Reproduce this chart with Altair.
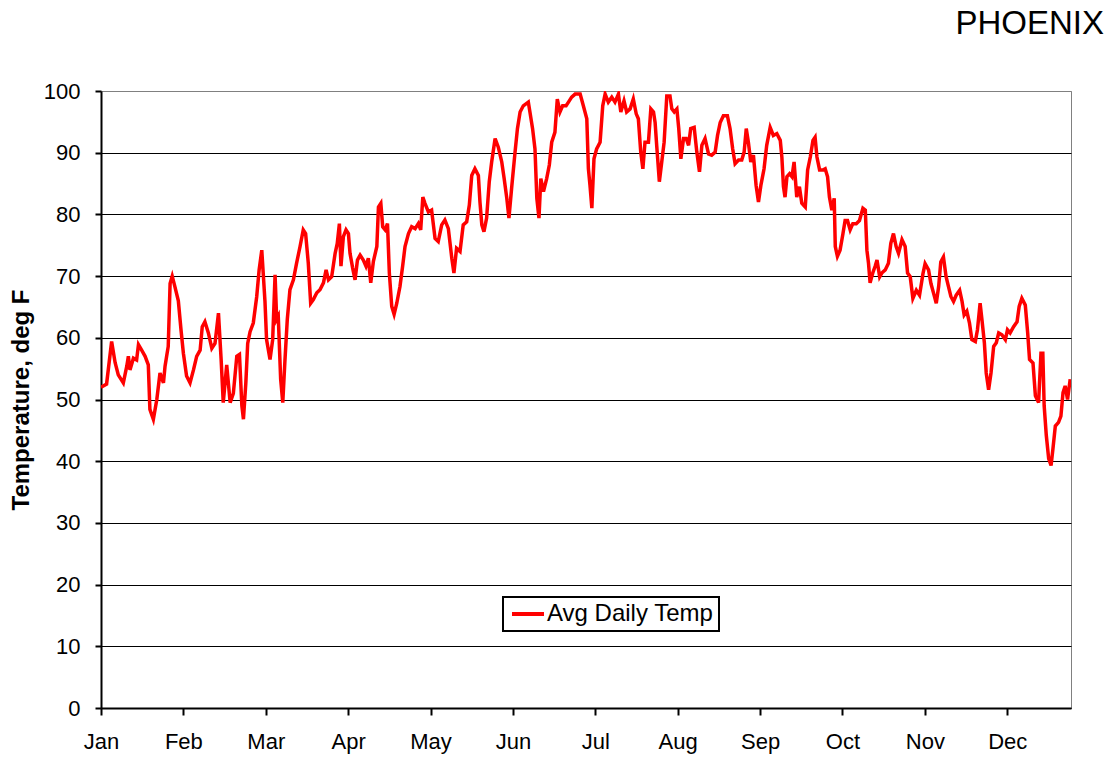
import altair as alt
import pandas as pd

# Day of year (fractional) and average daily temperature (deg F)
DAYS = [
    0, 2.1, 4.0, 5.3, 6.5, 8.4, 9.7, 10.3, 10.9, 12.2, 13.4, 14.1, 15.3, 16.6, 17.8, 18.4,
    19.7, 21.0, 22.2, 23.5, 24.1, 24.7, 25.3, 26.0, 26.8, 27.8, 29.1, 30.1, 31.0, 32.2,
    33.5, 34.8, 36.0, 37.3, 38.1, 39.1, 40.4, 41.7, 42.9, 44.2, 45.2, 46.0, 47.3, 48.6,
    49.8, 51.1, 52.1, 53.0, 53.6, 54.5, 55.2, 56.1, 57.3, 58.6, 59.5,
    60.5, 61.7, 62.3, 63.6, 64.6, 65.5, 66.1, 66.7, 67.6, 68.4, 69.2, 70.1, 71.1, 72.4,
    73.6, 74.9, 76.1, 77.0, 78.0, 78.9, 79.9, 81.2, 82.4, 83.7, 84.7, 85.6, 86.8, 88.1,
    88.9, 89.7, 90.3, 91.2, 92.2, 93.1, 93.7, 94.7, 95.6, 96.5, 97.5, 98.7, 99.7, 100.6,
    101.5, 102.5, 103.8, 104.4, 105.3, 106.0, 106.9, 107.8, 108.5, 109.4, 110.3, 111.3,
    112.5, 113.5, 114.4, 115.7, 116.9, 118.2, 119.4, 120.3, 121.1, 121.9, 123.2,
    124.4, 125.7, 126.9, 128.2, 129.4, 130.7, 132.0, 132.8, 133.8, 135.1, 136.3, 137.6,
    138.6, 139.5, 140.7, 142.0, 142.6, 143.3, 144.1, 145.1, 146.1, 147.0, 148.3, 149.5,
    150.8, 151.7, 152.7, 153.5, 154.5, 155.8, 156.7, 157.7, 158.9, 160.8, 161.4, 162.4,
    163.3, 164.0, 164.8, 165.5, 166.5, 167.7, 168.7, 169.6, 170.8, 171.7, 172.7, 173.7,
    175.0, 175.9, 177.1, 178.4, 180.3, 181.5, 182.8, 183.4, 184.0, 184.7, 185.5, 186.5,
    187.8, 188.8, 189.7, 190.9, 192.2, 193.4, 194.7, 195.6, 196.8, 197.8, 199.1, 200.3,
    201.4, 202.2, 203.1, 203.9, 204.7, 206.0, 206.9, 207.9, 208.5, 209.1, 210.1, 211.0,
    211.9, 212.9, 214.1, 214.8, 215.7, 216.7, 217.4, 218.2, 219.2, 220.2, 221.1, 221.9,
    223.2, 224.2, 225.2, 226.1, 227.3, 228.6, 229.8, 231.1, 232.0, 233.0, 234.2, 235.7,
    236.7, 237.7, 238.6, 239.9, 241.1, 242.0, 242.8, 243.6, 244.5, 245.5, 246.5, 247.4,
    248.3, 249.5, 250.5,
    251.8, 253.0, 254.3, 255.6, 256.2, 256.8, 257.4, 258.1, 259.1, 260.0, 260.8, 261.8,
    262.8, 263.7, 265.0, 265.9, 266.9, 267.9, 268.7, 269.4, 270.4, 271.6, 272.5, 273.4,
    274.1, 275.0, 275.9, 276.3, 277.1, 278.1, 279.2, 280.0, 280.9, 281.9, 282.9, 284.2,
    285.4, 286.7, 287.6, 288.2, 288.8, 289.4, 290.4, 291.3, 292.0, 293.0, 293.8, 295.1,
    296.3, 297.2, 298.2, 299.2, 300.1, 301.4, 302.6, 303.5,
    304.5, 305.5, 306.8, 308.0, 309.3, 310.1, 311.4, 312.3, 313.3, 314.3, 315.2, 316.0,
    317.0, 318.0, 318.9, 319.8, 320.8, 321.8, 323.1, 324.0, 324.8, 325.8, 326.8, 327.7,
    329.0, 329.8, 330.8, 331.5, 332.4, 333.1, 334.0, 334.9, 335.9, 336.9, 337.8, 339.0,
    340.3, 341.1, 342.1, 343.4, 344.7, 345.5, 346.5, 347.8, 348.7, 349.4, 350.7, 351.6,
    352.8, 353.7, 354.4, 354.9, 355.7, 356.6, 357.5, 358.2, 359.1, 360.3, 361.2, 362.0,
    362.8, 363.7, 364.7,
]
TEMPS = [
    52, 52.5, 59.4, 56, 54, 52.7, 55.4, 57, 54.8, 56.7, 56.4, 58.9, 58, 57, 55.6, 48.4,
    46.8, 50, 54.3, 52.7, 55.4, 57, 58.6, 68.8, 70, 68.3, 66, 61.3, 57.5, 53.8,
    52.7, 54.8, 57, 58, 61.8, 62.6, 60.8, 58.3, 59.1, 64, 56.5, 49.5, 55.6, 49.5,
    51, 57, 57.3, 49, 46.8, 52.7, 59.1, 61, 62.4, 66.7, 71,
    74.2, 65.9, 59.7, 56.5, 59.7, 70.2, 63, 63.5, 53.3, 49.5, 56.2, 63, 67.8, 69.4,
    72.1, 74.8, 77.5, 76.9, 72.1, 65.6, 66.2, 67.3, 67.8, 68.9, 71, 69.4, 69.9, 73.7,
    75.3, 78.5, 71.6, 76.4, 77.5, 76.9, 73.7, 71.3, 69.4, 72.6, 73.4, 72.6, 71.6, 72.9,
    68.9, 72.4, 74.8, 81.2, 81.8, 78, 77.5, 78.5, 70.5, 65.1, 63.8, 65.6,
    68.3, 71.6, 74.8, 76.9, 78, 77.7, 78.5, 77.5, 82.8, 81.8, 80.4,
    80.7, 76.1, 75.6, 78.3, 79.1, 77.7, 72.9, 70.5, 74.5, 74, 78.3, 78.8,
    81.5, 86.3, 87.4, 86.3, 82, 78.3, 77.2, 79.4, 85.3, 88.5, 92.3, 90.9,
    88.5, 85.8, 82.6, 79.4, 84.2, 90.1, 93.9, 96.6, 97.6, 98.2, 96.6, 93.9,
    90.6, 82.6, 79.4, 85.8, 83.7, 85.8, 88, 91.7, 93.3, 98.7, 96.6, 97.6,
    97.6, 98.2, 99, 99.5, 99.5, 97.6, 95.5, 87.4, 84.7, 81, 89, 90.6,
    91.7, 97.6, 99.5, 98.2, 99, 98.2, 99.5, 96.6, 98.4, 96.6, 97.1, 98.7,
    96.3, 95.5, 90.1, 87.4, 91.7, 91.7, 97.1, 96.6, 94.9, 91.2, 85.3, 88.5,
    91.7, 99.2, 99.2, 97.1, 96.6, 97.1, 93.9, 89, 92.3, 92.3, 91.2, 93.9,
    94.1, 90.1, 86.9, 91.2, 92.3, 89.8, 89.6, 90.1, 92.8, 94.9, 96, 96,
    93.9, 90.6, 88.2, 88.8, 88.8, 90.1, 93.9, 91.7, 88.5, 89.6, 84.7, 82,
    84.7, 87.4, 91.2,
    94.1, 92.8, 93.1, 92, 89.3, 84.5, 82.8, 86.1, 86.6, 86.1, 88.5, 82.8,
    84.5, 81.8, 81.2, 87.2, 89.3, 92, 92.5, 89.3, 87.2, 87.2, 87.4, 86.1,
    82.8, 80.7, 82.6, 74.8, 73.2, 74.2, 76.9, 79, 79, 77.5, 78.5, 78.5,
    79, 81, 80.7, 74.2, 72.1, 68.9, 70.5, 71.6, 72.6, 69.9, 70.5, 71,
    72.1, 75.3, 76.9, 74.8, 73.7, 75.9, 74.8, 70.5,
    69.9, 66.4, 67.7, 66.9, 70.4, 72, 71, 68.8, 67.2, 65.6, 68.3, 72.3,
    73.1, 69.9, 68.3, 66.7, 65.9, 66.9, 67.7, 65.9, 63.7, 64.3, 62.4, 59.7,
    59.4, 61.3, 65.6, 62.9, 59.2, 54.3, 51.6, 54.3, 58.6, 59.2, 60.8, 60.5,
    59.7, 61.3, 60.8, 61.8, 62.6, 65.1, 66.4, 65.3, 60.8, 56.5, 55.9, 50.6,
    49.5, 57.5, 57.5, 49, 44.2, 40.4, 39.3, 42, 45.7, 46.3, 47.3, 51.1,
    52.2, 50, 53.3,
]
SERIES = "Avg Daily Temp"
MONTHS = ["Jan", "Feb", "Mar", "Apr", "May", "Jun", "Jul", "Aug", "Sep", "Oct", "Nov", "Dec"]
MONTH_TICKS = [31 * i for i in range(12)]
Y_TICKS = list(range(0, 101, 10))

df = pd.DataFrame({"day": DAYS, "temp": TEMPS, "series": SERIES})

label_expr = "[" + ",".join("'%s'" % m for m in MONTHS) + "][round(datum.value / 31)]"
FONT = "Liberation Sans"

chart = (
    alt.Chart(df)
    .mark_line(strokeWidth=3.5, clip=True, interpolate="linear")
    .encode(
        x=alt.X(
            "day:Q",
            scale=alt.Scale(domain=[0, 365], nice=False, zero=False),
            axis=alt.Axis(
                values=MONTH_TICKS,
                labelExpr=label_expr,
                grid=False,
                title=None,
                domainColor="black",
                domainWidth=2,
                tickColor="black",
                tickWidth=2,
                tickSize=7,
                labelFont=FONT,
                labelFontSize=22,
                labelColor="black",
                labelPadding=16,
                labelFlush=False,
                labelOverlap=False,
            ),
        ),
        y=alt.Y(
            "temp:Q",
            scale=alt.Scale(domain=[0, 100], nice=False),
            axis=alt.Axis(
                values=Y_TICKS,
                title="Temperature, deg F",
                titleFont=FONT,
                titleFontSize=24,
                titleFontWeight="bold",
                titleColor="black",
                titlePadding=10,
                grid=True,
                gridColor=alt.condition("datum.value == 100", alt.value("#808080"), alt.value("black")),
                gridWidth=1,
                gridOpacity=1,
                domainColor="black",
                domainWidth=2,
                tickColor="black",
                tickWidth=2,
                tickSize=6,
                labelFont=FONT,
                labelFontSize=22,
                labelColor="black",
                labelPadding=15,
                labelFlush=False,
            ),
        ),
        color=alt.Color(
            "series:N",
            scale=alt.Scale(range=["#FF0000"]),
            legend=alt.Legend(
                title=None,
                orient="none",
                legendX=402,
                legendY=506,
                symbolType="M-1,0H3",
                symbolSize=256,
                symbolStrokeWidth=4,
                labelFont=FONT,
                labelFontSize=24,
                labelColor="black",
                labelOffset=15,
                labelLimit=400,
                padding=5,
                strokeColor="black",
            ),
        ),
    )
    .properties(
        width=970,
        height=617,
        title=alt.Title(
            "PHOENIX",
            anchor="end",
            font=FONT,
            fontSize=33,
            fontWeight="normal",
            color="black",
            dx=33,
            offset=39,
        ),
        padding={"left": 93, "top": 83, "right": 36, "bottom": 47},
        autosize="none",
    )
    .configure_view(stroke="#808080", strokeWidth=1)
    .configure_legend(strokeWidth=2)
)

chart.save("out.html", embed_options={"renderer": "svg", "actions": False})
